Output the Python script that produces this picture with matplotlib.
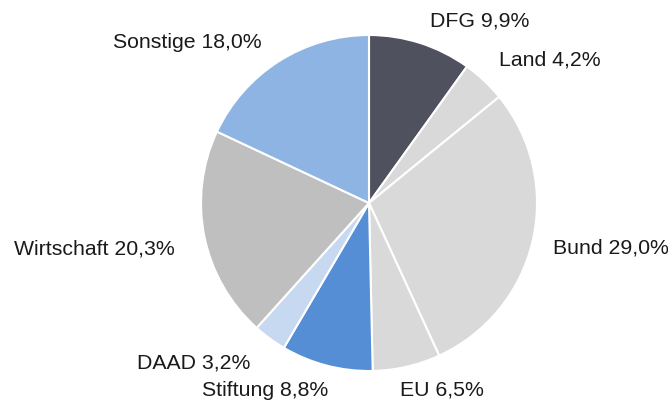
import matplotlib
matplotlib.use("Agg")
import matplotlib.pyplot as plt

labels = ["DFG", "Land", "Bund", "EU", "Stiftung", "DAAD", "Wirtschaft", "Sonstige"]
values = [9.9, 4.2, 29.0, 6.5, 8.8, 3.2, 20.3, 18.0]
value_text = ["9,9%", "4,2%", "29,0%", "6,5%", "8,8%", "3,2%", "20,3%", "18,0%"]
colors = ["#4F515E", "#D9D9D9", "#D9D9D9", "#D9D9D9", "#558ED5", "#C6D9F1", "#BFBFBF", "#8EB4E3"]

# label anchor positions in pixels (x, y from top), horizontal alignment
label_pos = [(430, 21, "left"), (499, 60, "left"), (553, 248, "left"), (400, 390, "left"),
             (328, 390, "right"), (250, 363, "right"), (175, 249, "right"), (262, 42, "right")]

plt.rcParams["font.family"] = ["Liberation Sans", "DejaVu Sans"]
W, H = 668, 405
fig = plt.figure(figsize=(W / 100, H / 100), dpi=100)
ax = fig.add_axes([0, 0, 1, 1])

ax.pie(values, colors=colors, startangle=90, counterclock=False,
       center=(369, H - 203), radius=168,
       wedgeprops=dict(edgecolor="white", linewidth=1.5), frame=True)
ax.set_xlim(0, W)
ax.set_ylim(0, H)
ax.set_aspect("equal")
ax.axis("off")

for lab, vt, (x, y, ha) in zip(labels, value_text, label_pos):
    ax.text(x, H - y, f"{lab} {vt}", ha=ha, va="center", fontsize=15.3, color="#1a1a1a")

fig.savefig("out.png", dpi=100)
